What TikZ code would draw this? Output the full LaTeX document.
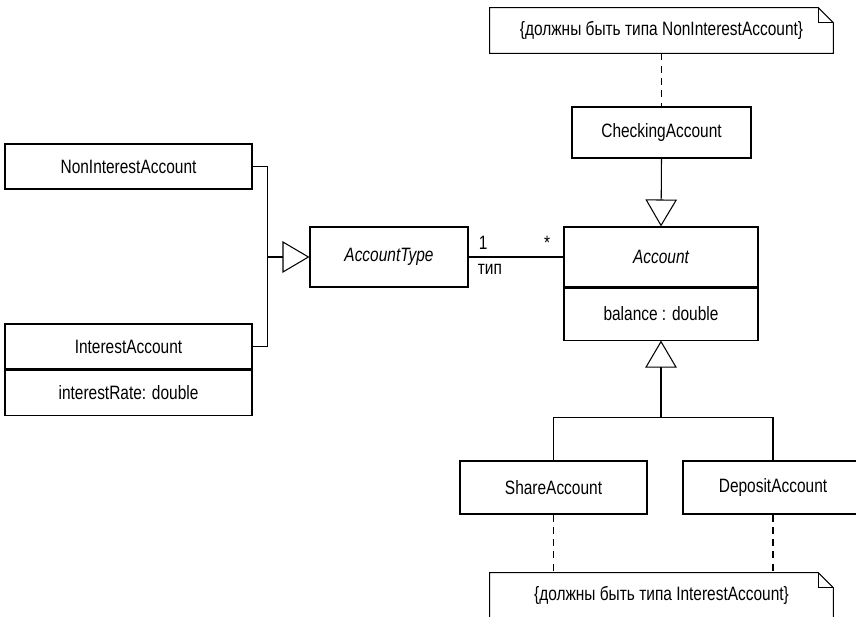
\documentclass[tikz,border=0pt]{standalone}
\usepackage{fontspec}
\setmainfont{Liberation Sans}[FakeStretch=0.8]
\usetikzlibrary{arrows.meta,positioning}

\begin{document}
\begin{tikzpicture}[
  font=\fontsize{11}{13}\selectfont,
  cls/.style={rectangle, draw, line width=0.6pt, inner sep=0pt, align=center},
  note/.style={rectangle, inner sep=0pt, minimum width=6.86cm, minimum height=0.9cm},
  line/.style={line width=0.6pt},
  gen/.style={-{Triangle[open, length=0.54cm, width=0.63cm]}, line width=0.6pt},
  constr/.style={dash pattern=on 4pt off 3pt, line width=0.6pt},
  mult/.style={inner sep=0pt}
]
\clip (0,0) rectangle (17.12,-12.32);

% Notes
\node[note] (topnote) at (13.23,-0.61) {\{должны быть типа NonInterestAccount\}};
\node[note] (botnote) at (13.23,-11.91) {\{должны быть типа InterestAccount\}};
\foreach \n in {topnote,botnote} {
  \draw[line] (\n.north west) -- ([xshift=-0.3cm]\n.north east)
    -- ([yshift=-0.3cm]\n.north east) -- (\n.south east) -- (\n.south west) -- cycle;
  \draw[line] ([xshift=-0.3cm]\n.north east) |- ([yshift=-0.3cm]\n.north east);
}

% Classes
\node[cls, minimum width=3.58cm, minimum height=1.02cm] (chk) at (13.23,-2.65) {CheckingAccount};
\node[cls, minimum width=3.88cm, minimum height=1.20cm] (acc) at (13.22,-5.14) {\itshape Account};
\node[cls, minimum width=3.88cm, minimum height=1.04cm, below=0pt of acc] (accbal) {balance : double};
\node[cls, minimum width=3.16cm, minimum height=1.20cm] (acctype) at (7.78,-5.14) {\itshape AccountType};
\node[cls, minimum width=4.94cm, minimum height=0.90cm] (nonint) at (2.57,-3.33) {NonInterestAccount};
\node[cls, minimum width=4.94cm, minimum height=0.90cm] (intacc) at (2.57,-6.93) {InterestAccount};
\node[cls, minimum width=4.94cm, minimum height=0.90cm, below=0pt of intacc] (intrate) {interestRate: double};
\node[cls, minimum width=3.74cm, minimum height=1.06cm] (share) at (11.07,-9.75) {ShareAccount};
\node[cls, minimum width=3.60cm, minimum height=1.06cm] (depacc) at (15.46,-9.75) {DepositAccount};

% Generalizations
\coordinate[left=0.84cm of acctype.west] (jl);
\draw[line] (nonint.east) -| (jl);
\draw[line] (intacc.east) -| (jl);
\draw[gen] (jl) -- (acctype.west);
\draw[gen] (chk.south) -- (acc.north);
\coordinate[below=1.54cm of accbal.south] (jb);
\draw[gen] (jb) -- (accbal.south);
\draw[line] (share.north) |- (jb);
\draw[line] (depacc.north) |- (jb);

% Association
\draw[line] (acctype.east) -- (acc.west);
\node[mult, above right=0.14cm and 0.2cm of acctype.east] (mone) {1};
\node[mult, below right=0.14cm and 0.18cm of acctype.east] (role) {тип};
\node[mult, above left=0.14cm and 0.26cm of acc.west] (mmany) {*};

% Constraint links
\draw[constr] (topnote.south) -- (chk.north);
\draw[constr] (share.south) -- (share.south |- botnote.north);
\draw[constr] (depacc.south) -- (depacc.south |- botnote.north);
\end{tikzpicture}
\end{document}
